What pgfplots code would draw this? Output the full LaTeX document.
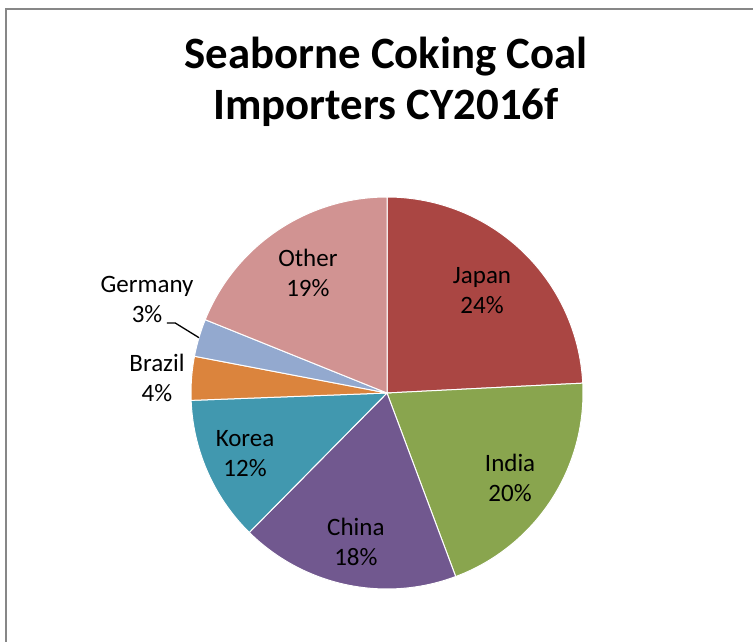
\documentclass[border=0pt]{standalone}
\usepackage{pgfplots}
\pgfplotsset{compat=1.18}
\usepgfplotslibrary{polar}
\usepackage{fontspec}
\setmainfont{Carlito}
\definecolor{cJapan}{HTML}{AA4643}
\definecolor{cIndia}{HTML}{89A54E}
\definecolor{cChina}{HTML}{71588F}
\definecolor{cKorea}{HTML}{4198AF}
\definecolor{cBrazil}{HTML}{DB843D}
\definecolor{cGermany}{HTML}{93A9CF}
\definecolor{cOther}{HTML}{D19392}
\begin{document}
\begin{tikzpicture}
\useasboundingbox (0pt,0pt) rectangle (753pt,642pt);
\fill[white] (0pt,0pt) rectangle (753pt,642pt);
\draw[color=black!47, line width=2pt] (6pt,0pt) -- (6pt,633pt) -- (753pt,633pt);
\node[font=\fontsize{44.8}{51}\selectfont\bfseries, anchor=base] at (386pt,573pt) {Seaborne Coking Coal};
\node[font=\fontsize{44.8}{51}\selectfont\bfseries, anchor=base] at (386pt,522pt) {Importers CY2016f};
\begin{polaraxis}[at={(387pt,249pt)}, anchor=origin, scale only axis,
  width=392pt, height=392pt, ymin=0, ymax=1, xmin=0, xmax=360,
  hide axis, clip=false,
  every axis plot/.append style={draw=white, line width=1pt, samples=90}]
% shares (%): Japan 24.2, India 20.1, China 18.1, Korea 12.0, Brazil 3.6, Germany 3.1, Other 18.9
\addplot[fill=cJapan, domain=2.88:90] {1} -- (axis cs:0,0) -- cycle;
\addplot[fill=cIndia, domain=-69.48:2.88] {1} -- (axis cs:0,0) -- cycle;
\addplot[fill=cChina, domain=-134.64:-69.48] {1} -- (axis cs:0,0) -- cycle;
\addplot[fill=cKorea, domain=-177.84:-134.64] {1} -- (axis cs:0,0) -- cycle;
\addplot[fill=cBrazil, domain=-190.8:-177.84] {1} -- (axis cs:0,0) -- cycle;
\addplot[fill=cGermany, domain=-201.96:-190.8] {1} -- (axis cs:0,0) -- cycle;
\addplot[fill=cOther, domain=-270:-201.96] {1} -- (axis cs:0,0) -- cycle;
\addplot[draw=black, line width=1.3pt, mark=none] coordinates {(163.6,1.0) (161.7,1.139) (162.35,1.178)};
\begin{scope}[every node/.style={font=\fontsize{25}{30}\selectfont, align=center}]
\node at (axis cs:47,0.711) {Japan\\24\%};
\node at (axis cs:-34.6,0.763) {India\\20\%};
\node at (axis cs:-101.8,0.776) {China\\18\%};
\node at (axis cs:-157,0.787) {Korea\\12\%};
\node at (axis cs:176.3,1.176) {Brazil\\4\%};
\node at (axis cs:158.8,1.313) {Germany\\3\%};
\node at (axis cs:123.4,0.733) {Other\\19\%};
\end{scope}
\end{polaraxis}
\end{tikzpicture}
\end{document}
